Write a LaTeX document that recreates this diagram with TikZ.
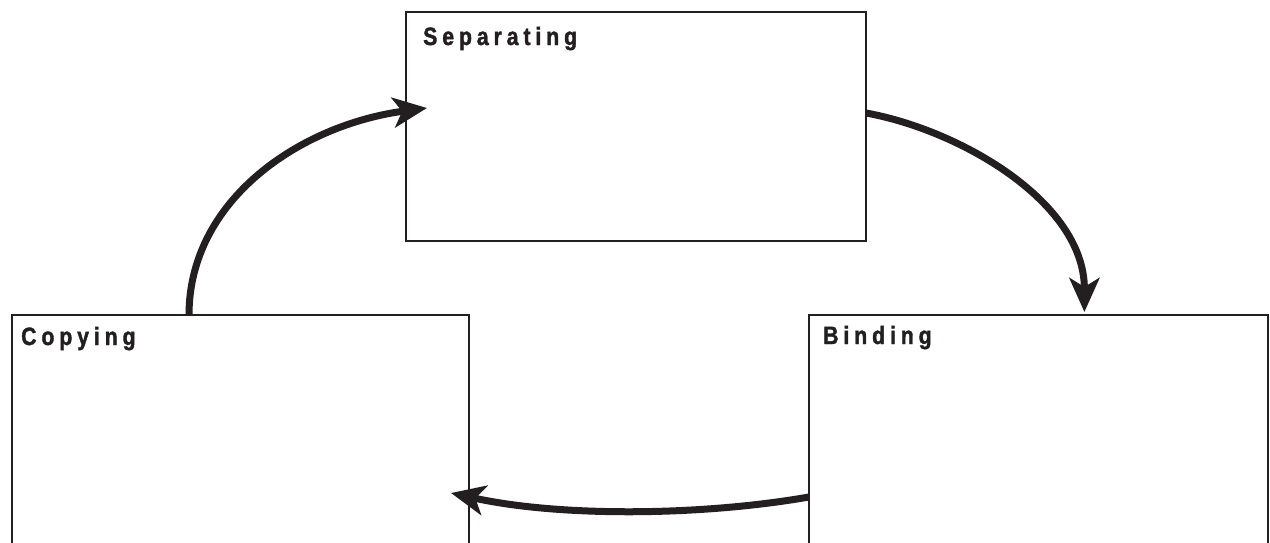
\documentclass[tikz,border=0pt]{standalone}
\usepackage{fontspec}
\newfontfamily\lblfont[FakeStretch=0.85,FakeBold=1.5]{Liberation Sans Bold}
\usetikzlibrary{arrows.meta,calc}
\makeatletter
\newcommand\trackit[1]{\@tfor\@tk:=#1\do{\@tk\kern4.9pt}\unkern}
\makeatother
\definecolor{ink}{HTML}{231F20}
\tikzset{
  stagebox/.style={draw=ink, line width=2.4pt, rectangle, outer sep=0pt, inner sep=0pt, anchor=north west},
  stagelabel/.style={anchor=base west, inner sep=0pt, text=ink, font=\fontsize{25}{30}\selectfont},
  cyclearrow/.style={draw=ink, line width=7pt, -{Stealth[length=34pt, width=30pt, inset=9pt]}}
}
\begin{document}
\begin{tikzpicture}[x=1pt,y=-1pt]
\useasboundingbox (0,0) rectangle (1270,542);
\clip (0,0) rectangle (1270,542);
\node[stagebox, minimum width=460pt, minimum height=229pt] (sep) at (406,12) {};
\node[stagebox, minimum width=457pt, minimum height=250pt] (copy) at (12,315) {};
\node[stagebox, minimum width=459pt, minimum height=250pt] (bind) at (809,315) {};
\node[stagelabel] (seplbl) at ($(sep.north west)+(17,33)$) {\lblfont\trackit{Separating}};
\node[stagelabel] (copylbl) at ($(copy.north west)+(9,30)$) {\lblfont\trackit{Copying}};
\node[stagelabel] (bindlbl) at ($(bind.north west)+(14,29)$) {\lblfont\trackit{Binding}};
\draw[cyclearrow] ($(sep.north east)+(0,101)$) .. controls +(94,17) and +(0,-110) .. ($(bind.north west)!0.6!(bind.north east)+(0,-3)$);
\draw[cyclearrow] ($(bind.north west)+(0,182)$) .. controls +(-109,19) and +(109,24) .. ($(copy.north east)+(-18,178)$);
\draw[cyclearrow] ($(copy.north west)+(177,0)$) .. controls +(0,-115) and +(-127,17) .. ($(sep.north west)+(21,96)$);
\end{tikzpicture}
\end{document}
